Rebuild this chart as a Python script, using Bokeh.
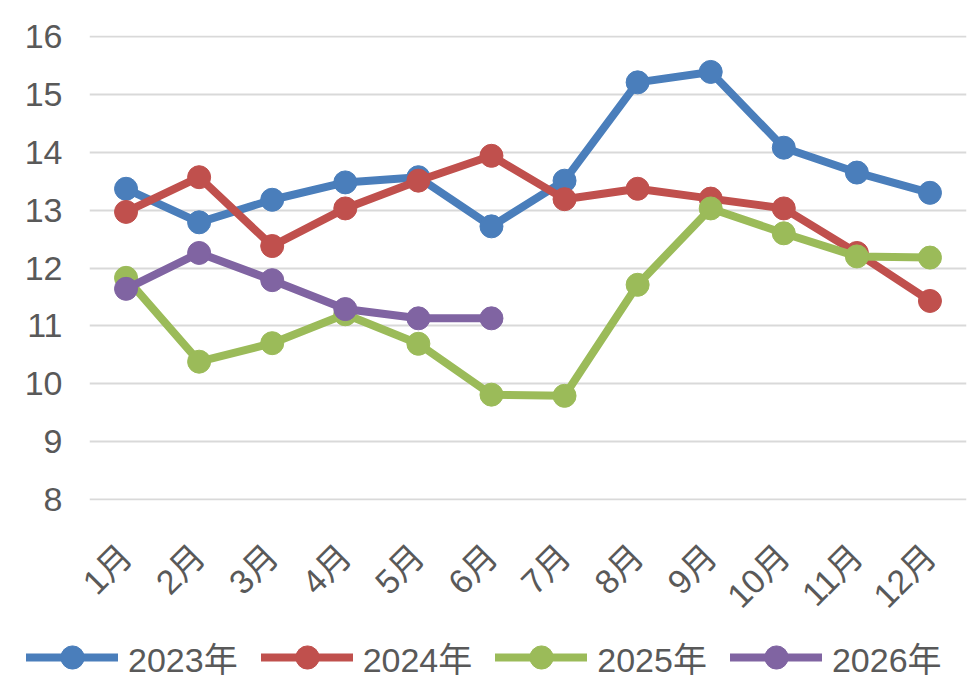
import math
from bokeh.plotting import figure
from bokeh.models import Range1d, FixedTicker, Legend, LegendItem
from bokeh.layouts import column, row
from bokeh.embed import file_html
from bokeh.resources import INLINE

months = ["1月", "2月", "3月", "4月", "5月", "6月", "7月", "8月", "9月", "10月", "11月", "12月"]
y2023 = [13.37, 12.79, 13.18, 13.48, 13.57, 12.72, 13.51, 15.21, 15.39, 14.08, 13.65, 13.30]
y2024 = [12.97, 13.57, 12.38, 13.03, 13.51, 13.94, 13.19, 13.37, 13.20, 13.03, 12.26, 11.43]
y2025 = [11.83, 10.38, 10.70, 11.20, 10.69, 9.81, 9.79, 11.71, 13.03, 12.60, 12.20, 12.18]
y2026 = [11.64, 12.26, 11.79, 11.29, 11.13, 11.13]
series_names = ["2023年", "2024年", "2025年", "2026年"]
colors = ["#4a7ebb", "#c0504d", "#9bbb59", "#8064a2"]
y_ticks = [8, 9, 10, 11, 12, 13, 14, 15, 16]
series = [y2023, y2024, y2025, y2026]

FONT = "Liberation Sans, Noto Sans CJK SC"
GRAY = "#595959"

p = figure(x_range=months, y_range=Range1d(7.98, 16.02),
           width=970, height=631,
           min_border_left=89, min_border_right=4, min_border_top=35, min_border_bottom=130,
           output_backend="svg", toolbar_location=None)
p.x_range.range_padding = 0
p.outline_line_color = None
p.background_fill_color = "white"
p.border_fill_color = "white"

p.xgrid.grid_line_color = None
p.ygrid.ticker = FixedTicker(ticks=y_ticks)
p.ygrid.grid_line_color = "#d9d9d9"
p.ygrid.grid_line_width = 2

p.yaxis.ticker = FixedTicker(ticks=y_ticks)
for ax in (p.xaxis, p.yaxis):
    ax.axis_line_color = None
    ax.major_tick_line_color = None
    ax.minor_tick_line_color = None
    ax.major_label_text_color = GRAY
    ax.major_label_text_font = FONT
p.yaxis.major_label_text_font_size = "34px"
p.yaxis.major_label_standoff = 21
p.xaxis.major_label_text_font_size = "34px"
p.xaxis.major_label_orientation = math.pi / 4
p.xaxis.major_label_standoff = 44

for name, vals, c in zip(series_names, series, colors):
    xs = months[:len(vals)]
    p.line(xs, vals, line_color=c, line_width=8, line_cap="round", line_join="round")
    p.scatter(xs, vals, size=23, fill_color=c, line_color=c)

# legend strip below the chart (its y range lies outside the data, so only the legend shows)
q = figure(x_range=months, y_range=Range1d(-2, -1), width=970, height=59, min_border=0,
           x_axis_type=None, y_axis_type=None,
           output_backend="svg", toolbar_location=None)
q.outline_line_color = None
q.background_fill_color = "white"
q.border_fill_color = "white"
q.xgrid.grid_line_color = None
q.ygrid.grid_line_color = None
items = []
for name, vals, c in zip(series_names, series, colors):
    xs = months[:len(vals)]
    ln = q.line(xs, vals, line_color=c, line_width=8, line_cap="round")
    sc = q.scatter(xs, vals, size=23, fill_color=c, line_color=c)
    items.append(LegendItem(label=name, renderers=[ln, sc]))
legend = Legend(items=items, orientation="horizontal", location=(26, 4),
                glyph_width=92, glyph_height=58, label_height=58,
                label_standoff=10, spacing=23, padding=0, margin=0,
                label_text_font=FONT, label_text_font_size="34px",
                label_text_color=GRAY, border_line_color=None,
                background_fill_alpha=0)
q.add_layout(legend, "center")

layout = column(p, row(q), spacing=0)
open("out.html", "w").write(file_html(layout, INLINE))
